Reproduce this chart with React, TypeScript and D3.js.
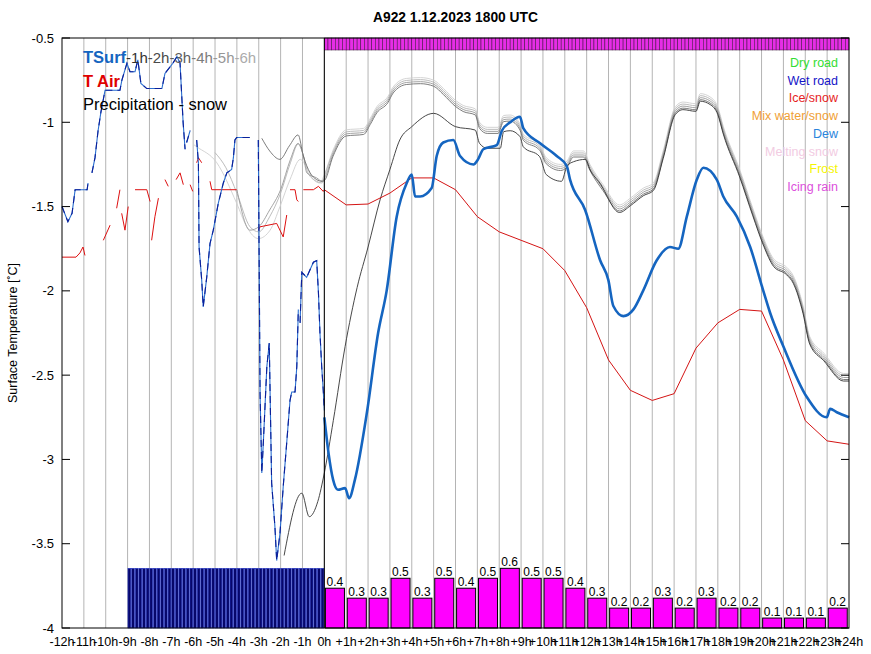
import React from "react";
import * as d3 from "d3";

type Pt = [number, number];

const WIDTH = 871;
const HEIGHT = 654;
const PLOT = { left: 62, right: 849, top: 38, bottom: 628 };
const FONT = "'Liberation Sans', Arial, Helvetica, sans-serif";

const title = "A922 1.12.2023 1800 UTC";
const yLabel = "Surface Temperature [˚C]";

// axis ticks
const hourTicks = d3.range(-12, 25);
const tempTicks = [-4, -3.5, -3, -2.5, -2, -1.5, -1, -0.5];

// forecast precipitation (snow), one bar per hour from 0h
const precipSnow = [0.4, 0.3, 0.3, 0.5, 0.3, 0.5, 0.4, 0.5, 0.6, 0.5, 0.5, 0.4,
  0.3, 0.2, 0.2, 0.3, 0.2, 0.3, 0.2, 0.2, 0.1, 0.1, 0.1, 0.2];
// observed snow flag, 10 minute slots from -9h to 0h
const obsSnowFrom = -9;
const obsSnowLevel = 0.6;

// observed surface temperature (gaps = missing data)
const tsurfObs: Pt[][] = [
  [[-12, -1.5], [-11.73, -1.59], [-11.54, -1.54], [-11.4, -1.4], [-10.85, -1.4], [-10.81, -1.36]],
  [[-10.63, -1.3], [-10.49, -1.21], [-10.35, -1.05], [-10.22, -0.94], [-10.03, -0.81], [-9.35, -0.81],
   [-9.26, -0.75], [-9.03, -0.65], [-8.89, -0.7], [-8.66, -0.7], [-8.53, -0.63], [-8.39, -0.77],
   [-8.12, -0.8], [-7.43, -0.8], [-7.29, -0.71], [-6.93, -0.65], [-6.74, -0.61], [-6.6, -0.65],
   [-6.46, -1.0], [-6.37, -1.16]],
  [[-6.3, -1.12], [-6.14, -1.05]],
  [[-5.84, -1.105], [-5.76, -1.24], [-5.73, -1.74], [-5.61, -1.935], [-5.54, -2.095], [-5.38, -1.92],
   [-5.23, -1.72], [-5.08, -1.64], [-4.85, -1.48], [-4.62, -1.36], [-4.46, -1.3], [-4.24, -1.28],
   [-4.16, -1.21], [-4.09, -1.105], [-4.01, -1.09], [-3.4, -1.09]],
  [[-3.02, -1.105], [-2.97, -2.04], [-2.94, -2.61], [-2.86, -3.08], [-2.79, -2.9], [-2.63, -2.45],
   [-2.52, -2.31], [-2.41, -3.14], [-2.26, -3.4], [-2.18, -3.6], [-2.03, -3.44], [-1.88, -3.16],
   [-1.72, -2.9], [-1.57, -2.65], [-1.49, -2.6], [-1.34, -2.6], [-1.26, -2.45], [-1.19, -2.11]],
  [[-1.11, -2.19], [-1.03, -1.89], [-0.81, -1.92], [-0.5, -1.83], [-0.35, -1.82], [-0.27, -2.01],
   [-0.2, -2.25], [-0.12, -2.45], [-0.05, -2.59], [0, -2.71]],
];

// observed air temperature (gaps = missing data)
const tairObs: Pt[][] = [
  [[-12, -1.8], [-11.36, -1.8], [-11.18, -1.775], [-11.04, -1.74], [-10.95, -1.79]],
  [[-10.11, -1.7], [-9.8, -1.61]],
  [[-9.5, -1.51], [-9.35, -1.4]],
  [[-9.27, -1.54], [-9.12, -1.64], [-8.97, -1.5]],
  [[-8.66, -1.4], [-8.12, -1.4], [-7.97, -1.47]],
  [[-7.9, -1.7], [-7.75, -1.56], [-7.59, -1.45]],
  [[-7.29, -1.34], [-7.14, -1.38]],
  [[-6.78, -1.34], [-6.6, -1.3], [-6.45, -1.37]],
  [[-6.14, -1.37], [-6.02, -1.41]],
  [[-5.84, -1.24], [-5.76, -1.21], [-5.61, -1.24]],
  [[-5.23, -1.35], [-5.15, -1.4], [-4.01, -1.4]],
  [[-3.02, -1.64], [-2.94, -1.62], [-2.18, -1.6], [-1.88, -1.68], [-1.72, -1.55]],
  [[-1.57, -1.4], [-1.34, -1.4], [-1.26, -1.46], [-1.19, -1.47]],
  [[-0.96, -1.4], [-0.5, -1.4], [-0.27, -1.38], [-0.05, -1.41], [0, -1.4]],
];

// current forecast, surface temperature
const tsurfFc: Pt[] = [
  [0, -2.75], [0.2, -2.97], [0.4, -3.12], [0.62, -3.18], [0.95, -3.17], [1.13, -3.23], [1.4, -3.12],
  [1.95, -2.72], [2.46, -2.25], [2.85, -2.0], [3.31, -1.56], [3.77, -1.36], [4.0, -1.31], [4.15, -1.44],
  [4.38, -1.44], [4.91, -1.39], [5.14, -1.2], [5.44, -1.12], [5.9, -1.105], [6.21, -1.2], [6.82, -1.25],
  [7.03, -1.22], [7.27, -1.16], [7.89, -1.135], [8.12, -1.05], [8.5, -1.0], [8.95, -0.967], [9.1, -1.035],
  [9.87, -1.125], [10.63, -1.2], [11.09, -1.26], [11.24, -1.34], [11.93, -1.52], [12.62, -1.82],
  [12.99, -1.935], [13.22, -2.09], [13.68, -2.15], [14.14, -2.11], [14.58, -2.0], [15.2, -1.82],
  [15.81, -1.74], [16.19, -1.75], [16.58, -1.56], [17.04, -1.34], [17.34, -1.27], [17.95, -1.34],
  [18.25, -1.44], [18.87, -1.56], [19.48, -1.74], [20.08, -2.0], [20.39, -2.13], [21.0, -2.33],
  [22.07, -2.63], [22.98, -2.75], [23.14, -2.7], [23.44, -2.72], [24, -2.75],
];

// current forecast, air temperature (hourly)
const tairFc = [-1.4, -1.49, -1.485, -1.42, -1.33, -1.33, -1.4, -1.56, -1.65, -1.7, -1.75, -1.88,
  -2.1, -2.41, -2.59, -2.65, -2.61, -2.34, -2.19, -2.11, -2.12, -2.41, -2.77, -2.89, -2.91];

// earlier runs: common forecast part after 0h
const earlierFc: Pt[] = [
  [0, -1.33], [0.4, -1.185], [1.0, -1.065], [1.8, -1.056], [2.1, -0.997], [2.4, -0.928], [2.9, -0.869],
  [3.15, -0.81], [3.75, -0.76], [4.4, -0.755], [5.0, -0.77], [5.45, -0.82], [6.0, -0.89], [6.35, -0.92],
  [6.9, -0.94], [7.1, -1.02], [7.45, -1.05], [7.95, -1.05], [8.2, -0.98], [8.5, -0.977], [8.95, -1.03],
  [9.1, -1.09], [9.85, -1.15], [10.15, -1.23], [10.8, -1.27], [11.1, -1.25], [11.4, -1.19], [11.85, -1.19],
  [12.15, -1.27], [12.75, -1.39], [13.5, -1.51], [14.0, -1.47], [14.6, -1.41], [15.05, -1.38], [15.5, -1.19],
  [16.05, -0.93], [16.4, -0.9], [17.0, -0.91], [17.2, -0.85], [17.65, -0.87], [18.0, -0.93], [18.25, -1.045],
  [19.0, -1.3], [19.6, -1.53], [20.1, -1.71], [20.55, -1.83], [21.15, -1.88], [21.45, -1.93], [21.9, -2.11],
  [22.2, -2.29], [22.85, -2.39], [23.75, -2.51], [24, -2.51],
];
// earlier runs: part before 0h
const run6Hist: Pt[] = [[-6, -1.13], [-5.84, -1.145], [-4.92, -1.24], [-4.01, -1.48], [-3.55, -1.62],
  [-3.02, -1.69], [-2.48, -1.64], [-2.03, -1.5], [-1.57, -1.34], [-1.1, -1.22], [-0.8, -1.27], [-0.5, -1.34], [-0.2, -1.36]];
const run5Hist: Pt[] = [[-5, -1.18], [-4.5, -1.27], [-4.0, -1.42], [-3.4, -1.62], [-3.0, -1.65], [-2.5, -1.56],
  [-2.0, -1.42], [-1.55, -1.24], [-1.2, -1.13], [-0.95, -1.2], [-0.75, -1.3], [-0.35, -1.35], [-0.1, -1.36]];
const run4Hist: Pt[] = [[-4, -1.4], [-3.4, -1.64], [-3.0, -1.62], [-2.5, -1.52], [-2.0, -1.4], [-1.55, -1.22],
  [-1.2, -1.125], [-0.96, -1.2], [-0.8, -1.3], [-0.35, -1.33], [-0.1, -1.35]];
const run3Hist: Pt[] = [[-2.86, -1.095], [-2.5, -1.17], [-2.03, -1.22], [-1.6, -1.14], [-1.2, -1.075],
  [-0.96, -1.2], [-0.65, -1.3], [-0.35, -1.34], [-0.1, -1.35]];
const runShift = [0.02, 0.008, -0.004, -0.016];
const runColors = ["#cfcfcf", "#b4b4b4", "#999999", "#6e6e6e"];

// latest earlier run (starts low near -2h)
const run2: Pt[] = [
  [-1.84, -3.57], [-1.03, -3.2], [-0.69, -3.34], [-0.3, -3.25], [0, -3.08], [0.41, -2.77], [0.95, -2.33],
  [1.5, -1.98], [2.0, -1.74], [2.55, -1.46], [3.0, -1.28], [3.45, -1.105], [4.0, -1.026], [5.0, -0.947],
  [6.0, -1.026], [6.9, -1.046], [7.1, -1.125], [7.45, -1.154], [8.05, -1.154], [8.2, -1.056], [8.5, -1.05],
  [8.95, -1.085], [9.1, -1.145], [9.85, -1.204], [10.15, -1.31], [10.85, -1.35], [11.1, -1.26], [11.4, -1.234],
  [11.95, -1.22], [12.15, -1.28], [12.6, -1.36], [13.5, -1.535], [14.0, -1.495], [14.6, -1.435], [15.05, -1.405],
  [15.5, -1.215], [16.05, -0.955], [16.4, -0.925], [17.0, -0.935], [17.2, -0.875], [17.65, -0.895], [18.0, -0.955],
  [18.25, -1.07], [19.0, -1.325], [19.6, -1.555], [20.1, -1.735], [20.55, -1.855], [21.15, -1.905], [21.45, -1.955],
  [21.9, -2.135], [22.2, -2.315], [22.85, -2.415], [23.75, -2.535], [24, -2.535],
];

const legendRuns = ["-1h", "-2h", "-3h", "-4h", "-5h", "-6h"];
const legendRunColors = ["#333333", "#4a4a4a", "#5e5e5e", "#7c7c7c", "#979797", "#ababab"];
const roadStates = ["Dry road", "Wet road", "Ice/snow", "Mix water/snow", "Dew", "Melting snow", "Frost", "Icing rain"];
const roadColors = ["#33dd33", "#1414c8", "#e61e1e", "#f0a035", "#2a84dc", "#f2cbe2", "#f5f500", "#dc50dc"];

const x = d3.scaleLinear().domain([-12, 24]).range([PLOT.left, PLOT.right]);
const y = d3.scaleLinear().domain([-4, -0.5]).range([PLOT.bottom, PLOT.top]);
const precipTop = (v: number) => y(-4 + v * 0.59);

const smooth = d3.line<Pt>().x(d => x(d[0])).y(d => y(d[1])).curve(d3.curveMonotoneX);
const straight = d3.line<Pt>().x(d => x(d[0])).y(d => y(d[1]));

const hourLabel = (h: number) => (h > 0 ? `+${h}h` : `${h}h`);

export default function App() {
  const runs = [run6Hist, run5Hist, run4Hist, run3Hist].map((hist, i) =>
    hist.concat(earlierFc.map(([h, t]) => [h, t + runShift[i]] as Pt))
  );
  const tairFcPts: Pt[] = tairFc.map((t, h) => [h, t]);
  const stripSlots = d3.range(0, 24, 1 / 6);
  const obsSlots = d3.range(obsSnowFrom, 0, 1 / 6);
  const slotW = x(1 / 6) - x(0);

  return (
    <svg width={WIDTH} height={HEIGHT} style={{ position: "absolute", left: 0, top: 0, background: "#fff" }}
      fontFamily={FONT}>
      <rect width={WIDTH} height={HEIGHT} fill="#fff" />
      <text x={(PLOT.left + PLOT.right) / 2} y={22} textAnchor="middle" fontSize={13.8} fontWeight="bold">{title}</text>

      {/* hour grid */}
      {hourTicks.filter(h => h > -12 && h < 24).map(h => (
        <line key={h} x1={x(h)} x2={x(h)} y1={PLOT.top} y2={PLOT.bottom} stroke="#b4b4b4" strokeWidth={1} />
      ))}

      {/* observed snow */}
      {obsSlots.map((h, i) => (
        <rect key={i} x={x(h) + 0.4} width={slotW - 0.8} y={precipTop(obsSnowLevel)}
          height={y(-4) - precipTop(obsSnowLevel)} fill="#07076a" stroke="#2436c8" strokeWidth={0.6} />
      ))}

      {/* forecast precipitation */}
      {precipSnow.map((v, h) => (
        <g key={h}>
          <rect x={x(h + 0.05)} width={x(h + 0.92) - x(h + 0.05)} y={precipTop(v)} height={y(-4) - precipTop(v)}
            fill="#ff00ff" stroke="#000" strokeWidth={1} />
          <text x={x(h + 0.48)} y={precipTop(v) - 2} textAnchor="middle" fontSize={12}>{v.toFixed(1)}</text>
        </g>
      ))}

      {/* earlier runs */}
      {runs.map((pts, i) => (
        <path key={i} d={smooth(pts) || ""} fill="none" stroke={runColors[i]} strokeWidth={0.9} />
      ))}
      <path d={smooth(run2) || ""} fill="none" stroke="#333" strokeWidth={0.9} />

      {/* air temperature */}
      {tairObs.map((seg, i) => (
        <path key={i} d={straight(seg) || ""} fill="none" stroke="#dd1010" strokeWidth={1} />
      ))}
      <path d={straight(tairFcPts) || ""} fill="none" stroke="#d41414" strokeWidth={1} />

      {/* surface temperature */}
      {tsurfObs.map((seg, i) => (
        <g key={i}>
          <path d={straight(seg) || ""} fill="none" stroke="#2a6fd0" strokeWidth={1.1} />
          <path d={straight(seg) || ""} fill="none" stroke="#0c1f99" strokeWidth={1.1} strokeDasharray="7 5" />
        </g>
      ))}
      <path d={smooth(tsurfFc) || ""} fill="none" stroke="#1565c0" strokeWidth={2.6} />

      {/* road condition strip */}
      {stripSlots.map((h, i) => (
        <rect key={i} x={x(h)} width={slotW} y={PLOT.top} height={12} fill="#e62ee6" stroke="#3a103a" strokeWidth={0.5} />
      ))}

      {/* frame and axes */}
      <rect x={PLOT.left} y={PLOT.top} width={PLOT.right - PLOT.left} height={PLOT.bottom - PLOT.top}
        fill="none" stroke="#000" strokeWidth={1} />
      <line x1={x(0)} x2={x(0)} y1={PLOT.top} y2={PLOT.bottom} stroke="#000" strokeWidth={1} />
      {tempTicks.map(t => (
        <g key={t}>
          <line x1={PLOT.left} x2={PLOT.left + 8} y1={y(t)} y2={y(t)} stroke="#000" />
          <line x1={PLOT.right - 8} x2={PLOT.right} y1={y(t)} y2={y(t)} stroke="#000" />
          <text x={PLOT.left - 8} y={y(t) + 4.5} textAnchor="end" fontSize={13}>{t}</text>
        </g>
      ))}
      {hourTicks.map(h => (
        <text key={h} x={x(h)} y={646} textAnchor="middle" fontSize={12.5}>{hourLabel(h)}</text>
      ))}
      <text transform={`translate(17,${(PLOT.top + PLOT.bottom) / 2}) rotate(-90)`} textAnchor="middle" fontSize={12.5}>
        {yLabel}
      </text>

      {/* legend */}
      <text x={83} y={63} fontSize={15}>
        <tspan fill="#1565c0" fontWeight="bold" fontSize={16.5}>TSurf</tspan>
        {legendRuns.map((r, i) => (
          <tspan key={r} fill={legendRunColors[i]}>{r}</tspan>
        ))}
      </text>
      <text x={83} y={87} fontSize={16.5} fill="#e00000" fontWeight="bold">T Air</text>
      <text x={83} y={110} fontSize={16.5} fill="#000">Precipitation - snow</text>
      {roadStates.map((s, i) => (
        <text key={s} x={838} y={67 + i * 17.7} textAnchor="end" fontSize={12.5} fill={roadColors[i]}>{s}</text>
      ))}
    </svg>
  );
}
